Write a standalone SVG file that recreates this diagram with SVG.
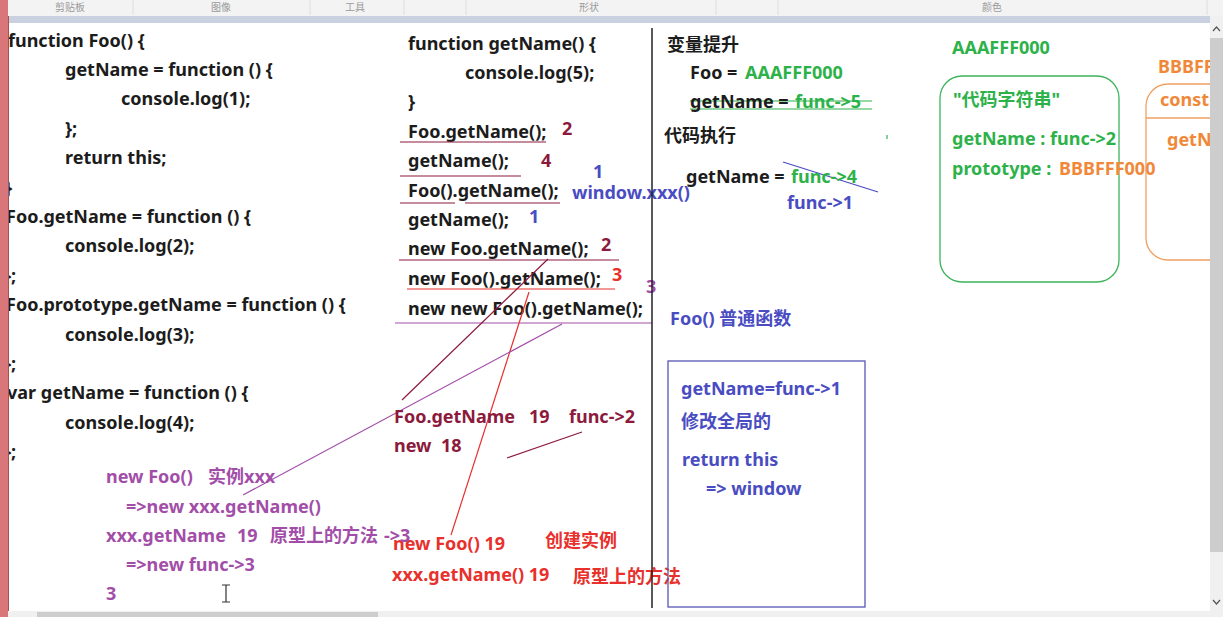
<svg xmlns="http://www.w3.org/2000/svg" width="1223" height="617" viewBox="0 0 1223 617">
<style>
text{font-family:"Noto Sans","Noto Sans CJK SC",sans-serif;font-weight:bold;font-size:18px}
.k{fill:#1c1c1c}
.mr{fill:#8c1a3c}
.rd{fill:#e8302c}
.bl{fill:#4a4cc2}
.pu{fill:#a24ea8}
.gr{fill:#2db24a}
.or{fill:#f0883a}
.tb{font-family:"Noto Sans CJK SC",sans-serif;font-weight:normal;font-size:10px;fill:#9a9a9a}
.ln{fill:none;stroke-width:1.2}
</style>
<rect x="0" y="0" width="1223" height="617" fill="#ffffff"/>
<g id="toolbar">
<rect x="0" y="0" width="1223" height="16" fill="#f3f3f3"/>
<rect x="8" y="16" width="1202" height="7" fill="#c9d1e1"/>
<g stroke="#dedede" stroke-width="1">
<line x1="133" y1="0" x2="133" y2="15"/><line x1="310" y1="0" x2="310" y2="15"/><line x1="404" y1="0" x2="404" y2="15"/><line x1="466" y1="0" x2="466" y2="15"/><line x1="716" y1="0" x2="716" y2="15"/><line x1="778" y1="0" x2="778" y2="15"/><line x1="1207" y1="0" x2="1207" y2="15"/>
</g>
<text class="tb" x="70" y="11" text-anchor="middle">剪贴板</text>
<text class="tb" x="221" y="11" text-anchor="middle">图像</text>
<text class="tb" x="355" y="11" text-anchor="middle">工具</text>
<text class="tb" x="589" y="11" text-anchor="middle">形状</text>
<text class="tb" x="992" y="11" text-anchor="middle">颜色</text>
</g>
<g id="left-code" class="k">
<text x="8" y="47">function Foo() {</text>
<text x="65" y="76">getName = function () {</text>
<text x="121" y="105">console.log(1);</text>
<text x="65" y="135">};</text>
<text x="65" y="164">return this;</text>
<text x="5" y="194">}</text>
<text x="6" y="223">Foo.getName = function () {</text>
<text x="65" y="252">console.log(2);</text>
<text x="4" y="282">};</text>
<text x="6" y="311">Foo.prototype.getName = function () {</text>
<text x="65" y="341">console.log(3);</text>
<text x="4" y="370">};</text>
<text x="7" y="399">var getName = function () {</text>
<text x="65" y="429">console.log(4);</text>
<text x="4" y="458">};</text>
</g>
<g id="middle-code" class="k">
<text x="408" y="50">function getName() {</text>
<text x="465" y="79">console.log(5);</text>
<text x="408" y="108">}</text>
<text x="408" y="138">Foo.getName();</text>
<text x="408" y="167">getName();</text>
<text x="408" y="197">Foo().getName();</text>
<text x="408" y="226">getName();</text>
<text x="408" y="255">new Foo.getName();</text>
<text x="408" y="285">new Foo().getName();</text>
<text x="408" y="315">new new Foo().getName();</text>
</g>
<g id="middle-answers">
<text class="mr" x="562" y="135">2</text>
<text class="mr" x="541" y="167">4</text>
<text class="bl" x="593" y="178">1</text>
<text class="bl" x="572" y="199">window.xxx()</text>
<text class="bl" x="529" y="223">1</text>
<text class="mr" x="601" y="251">2</text>
<text class="rd" x="612" y="281">3</text>
<text class="pu" x="646" y="293">3</text>
</g>
<g id="connectors">
<line class="ln" stroke="#8c1a3c" x1="400" y1="142" x2="546" y2="142"/>
<line class="ln" stroke="#8c1a3c" x1="400" y1="176" x2="521" y2="176"/>
<line class="ln" stroke="#8c1a3c" x1="400" y1="203" x2="455" y2="203"/>
<line class="ln" stroke="#8c1a3c" x1="465" y1="203" x2="560" y2="203"/>
<line class="ln" stroke="#8c1a3c" x1="399" y1="260" x2="619" y2="260"/>
<line class="ln" stroke="#e8302c" x1="407" y1="289" x2="615" y2="289"/>
<line class="ln" stroke="#a24ea8" x1="395" y1="323" x2="652" y2="323"/>
<line class="ln" stroke="#8c1a3c" x1="548" y1="259" x2="402" y2="400"/>
<line class="ln" stroke="#e8302c" x1="529" y1="292" x2="451" y2="535"/>
<line class="ln" stroke="#a24ea8" x1="562" y1="324" x2="243" y2="495"/>
<line class="ln" stroke="#8c1a3c" x1="507" y1="458" x2="582" y2="432"/>
<line class="ln" stroke="#2db24a" x1="690" y1="101" x2="872" y2="101"/>
<line class="ln" stroke="#2db24a" x1="690" y1="109" x2="872" y2="109"/>
<line class="ln" stroke="#2db24a" x1="887" y1="135" x2="887" y2="139"/>
<line class="ln" stroke="#4a4cc2" x1="783" y1="162" x2="878" y2="192"/>
</g>
<g id="middle-notes">
<text class="mr" x="394" y="423">Foo.getName</text>
<text class="mr" x="529" y="423">19</text>
<text class="mr" x="569" y="423">func-&gt;2</text>
<text class="mr" x="394" y="452">new</text>
<text class="mr" x="441" y="452">18</text>
<text class="rd" x="393" y="550">new Foo() 19</text>
<text class="rd" x="545" y="547" font-size="16">创建实例</text>
<text class="rd" x="392" y="581">xxx.getName() 19</text>
<text class="rd" x="573" y="583" font-size="16">原型上的方法</text>
</g>
<g id="left-notes" class="pu">
<text x="106" y="483">new Foo()</text>
<text x="208" y="483" font-size="16">实例xxx</text>
<text x="126" y="513">=&gt;new xxx.getName()</text>
<text x="106" y="542">xxx.getName</text>
<text x="237" y="542">19</text>
<text x="270" y="542" font-size="16">原型上的方法</text>
<text x="384" y="542">-&gt;3</text>
<text x="126" y="571">=&gt;new func-&gt;3</text>
<text x="106" y="600">3</text>
</g>
<path id="cursor" d="M222 585h8M226 585v17M222 602h8" stroke="#333" stroke-width="1.2" fill="none"/>
<line id="divider" x1="652" y1="28" x2="652" y2="608" stroke="#222" stroke-width="1.5"/>
<g id="hoisting">
<text class="k" x="667" y="51" font-size="16">变量提升</text>
<text class="k" x="690" y="79">Foo = </text>
<text class="gr" x="745" y="79">AAAFFF000</text>
<text class="k" x="690" y="108">getName = </text>
<text class="gr" x="795" y="108">func-&gt;5</text>
<text class="k" x="664" y="142" font-size="16">代码执行</text>
<text class="k" x="686" y="183">getName = </text>
<text class="gr" x="791" y="183">func-&gt;4</text>
<text class="bl" x="787" y="209">func-&gt;1</text>
</g>
<g id="foo-call">
<text class="bl" x="670" y="325">Foo() 普通函数</text>
<rect x="668" y="361" width="197" height="246" fill="none" stroke="#5656b6" stroke-width="1.3"/>
<text class="bl" x="681" y="395">getName=func-&gt;1</text>
<text class="bl" x="681" y="428" font-size="16">修改全局的</text>
<text class="bl" x="682" y="466">return this</text>
<text class="bl" x="706" y="495">=&gt; window</text>
</g>
<g id="foo-object">
<text class="gr" x="952" y="54">AAAFFF000</text>
<rect x="940" y="76" width="179" height="206" rx="22" fill="none" stroke="#3cb45a" stroke-width="1.3"/>
<text class="gr" x="953" y="106">"代码字符串"</text>
<text class="gr" x="952" y="145">getName : func-&gt;2</text>
<text class="gr" x="952" y="175">prototype : </text>
<text class="or" x="1059" y="175">BBBFFF000</text>
</g>
<g id="prototype-object">
<text class="or" x="1158" y="73">BBBFFF000</text>
<path d="M1240 84H1168a22 22 0 0 0 -22 22V238a22 22 0 0 0 22 22H1240" fill="none" stroke="#f0a060" stroke-width="1.3"/>
<line x1="1146" y1="118" x2="1240" y2="118" stroke="#f0a060" stroke-width="1.3"/>
<text class="or" x="1160" y="106">constructor</text>
<text class="or" x="1167" y="146">getName</text>
</g>
<g id="window-chrome">
<rect x="0" y="0" width="8" height="617" fill="#d9767a"/>
<line x1="8.5" y1="16" x2="8.5" y2="617" stroke="#a85050" stroke-width="1"/>
<rect x="1210" y="16" width="13" height="601" fill="#f0f0f0"/>
<rect x="1210" y="38" width="13" height="514" fill="#cdcdcd"/>
<path d="M1213 31l3.5-4 3.5 4M1213 600l3.5 4 3.5-4" stroke="#555" stroke-width="1.2" fill="none"/>
<rect x="8" y="611" width="1202" height="6" fill="#f0f0f0"/>
<rect x="37" y="612" width="341" height="5" fill="#cdcdcd"/>
</g>
</svg>
